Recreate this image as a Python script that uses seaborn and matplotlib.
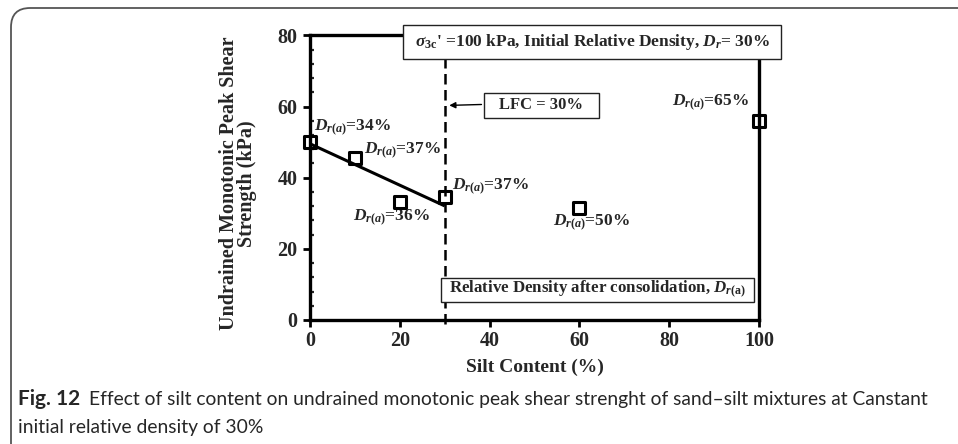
import matplotlib
matplotlib.use("Agg")
import matplotlib.pyplot as plt
from matplotlib.patches import Rectangle, FancyBboxPatch
from matplotlib.ticker import MultipleLocator
import seaborn as sns
import pandas as pd

# Silt content (%) and undrained monotonic peak shear strength (kPa)
silt_content = [0, 10, 20, 30, 60, 100]
peak_strength = [50.0, 45.4, 33.1, 34.7, 31.4, 55.8]
# Relative density after consolidation for each specimen
dr_after = ["34%", "37%", "36%", "37%", "50%", "65%"]
# Where each density label sits
label_x = [1.0, 12.0, 9.6, 31.6, 54.2, 80.6]
label_y = [54.0, 47.6, 28.6, 37.3, 27.2, 61.0]
lfc = 30

sns.set_style("ticks")
plt.rcParams["font.family"] = ["Liberation Serif", "DejaVu Serif"]
plt.rcParams["font.weight"] = "bold"
plt.rcParams["mathtext.fontset"] = "custom"
plt.rcParams["mathtext.rm"] = "Liberation Serif:bold"
plt.rcParams["mathtext.it"] = "Liberation Serif:italic:bold"
plt.rcParams["mathtext.bf"] = "Liberation Serif:bold"

df = pd.DataFrame({"silt": silt_content, "strength": peak_strength})

fig = plt.figure(figsize=(9.58, 4.44), dpi=100)
ax = fig.add_axes([0.3236, 0.2793, 0.4687, 0.641])

# trend line through the sand-dominated specimens (silt content up to LFC)
sns.regplot(data=df[df["silt"] <= lfc], x="silt", y="strength", ci=None,
            scatter=False, truncate=True, ax=ax,
            line_kws=dict(color="black", lw=2.2, solid_capstyle="butt"))

sns.scatterplot(data=df, x="silt", y="strength", marker="s", s=75,
                facecolor="none", edgecolor="black", linewidth=2.2,
                ax=ax, zorder=4)
for c in ax.collections:
    c.set_clip_on(False)

# limiting fines content
ax.axvline(lfc, ymin=-0.015, ymax=1.0, color="black", lw=1.8,
           dashes=(4.2, 2.2), clip_on=False, zorder=2)

ax.set_xlim(0, 100)
ax.set_ylim(0, 80)
ax.xaxis.set_major_locator(MultipleLocator(20))
ax.yaxis.set_major_locator(MultipleLocator(20))
ax.yaxis.set_minor_locator(MultipleLocator(4))
ax.tick_params(axis="both", which="major", direction="out", length=5,
               width=2, labelsize=14.5, color="black")
ax.tick_params(axis="x", which="major", pad=3)
ax.tick_params(axis="y", which="major", pad=4)
ax.tick_params(axis="y", which="minor", direction="in", length=3, width=1.6)
for lab in ax.get_xticklabels() + ax.get_yticklabels():
    lab.set_fontweight("bold")
for s in ax.spines.values():
    s.set_linewidth(2.4)
    s.set_color("black")
    s.set_zorder(3)

ax.set_xlabel("Silt Content (%)", fontsize=14, fontweight="bold")
ax.xaxis.set_label_coords(0.5, -0.135)
ax.set_ylabel("Undrained Monotonic Peak Shear\nStrength (kPa)",
              fontsize=14.5, fontweight="bold", linespacing=0.9)
ax.yaxis.set_label_coords(-0.118, 0.48)

for x, y, d in zip(label_x, label_y, dr_after):
    ax.text(x, y, r"$D_{r(a)}$=" + d, fontsize=12.5, ha="left", va="center")

# header box
ax.add_patch(Rectangle((20.8, 73.3), 84.1, 9.6, facecolor="white",
                       edgecolor="#222222", lw=1.0, clip_on=False, zorder=6))
ax.text(62.8, 78.1,
        r"$\sigma_{\rm 3c}$' =100 kPa, Initial Relative Density, $D_r$= 30%",
        fontsize=12.5, ha="center", va="center", zorder=7, clip_on=False)

# LFC box and arrow
ax.add_patch(Rectangle((38.8, 56.7), 25.5, 7.1, facecolor="white",
                       edgecolor="#222222", lw=1.0, clip_on=False, zorder=6))
ax.text(51.5, 60.3, "LFC = 30%", fontsize=12, ha="center", va="center",
        zorder=7)
ax.annotate("", xy=(lfc + 0.4, 60.3), xytext=(38.8, 60.6),
            arrowprops=dict(arrowstyle="-|>", color="black", lw=1.0,
                            mutation_scale=9), zorder=7)

# note explaining the density labels
ax.add_patch(Rectangle((29.2, 5.1), 69.7, 6.8, facecolor="white",
                       edgecolor="#222222", lw=1.0, clip_on=False, zorder=6))
ax.text(64.0, 8.5, r"Relative Density after consolidation, $D_{r\rm (a)}$",
        fontsize=12.2, ha="center", va="center", zorder=7)

# figure frame and caption
frame = FancyBboxPatch((11 / 958, -0.2), 1.2, 1.2 - 8 / 444,
                       boxstyle="round,pad=0,rounding_size=0.02",
                       transform=fig.transFigure, facecolor="none",
                       edgecolor="#555555", lw=1.3, clip_on=False,
                       mutation_aspect=958 / 444)
fig.patches.append(frame)

cap_kw = dict(family=["Lato", "DejaVu Sans"], va="center")
t1 = fig.text(18 / 958, 1 - 399 / 444, "Fig. 12", fontweight="bold",
              fontsize=15, **cap_kw)
fig.canvas.draw()
bb = t1.get_window_extent()
fig.text((bb.x1 + 9) / 958, 1 - 399 / 444,
         "Effect of silt content on undrained monotonic peak shear strenght "
         "of sand\u2013silt mixtures at Canstant", fontweight="normal",
         fontsize=13.9, **cap_kw)
fig.text(18 / 958, 1 - 427 / 444, "initial relative density of 30%",
         fontweight="normal", fontsize=13.9, **cap_kw)

fig.savefig("out.png", dpi=100)
